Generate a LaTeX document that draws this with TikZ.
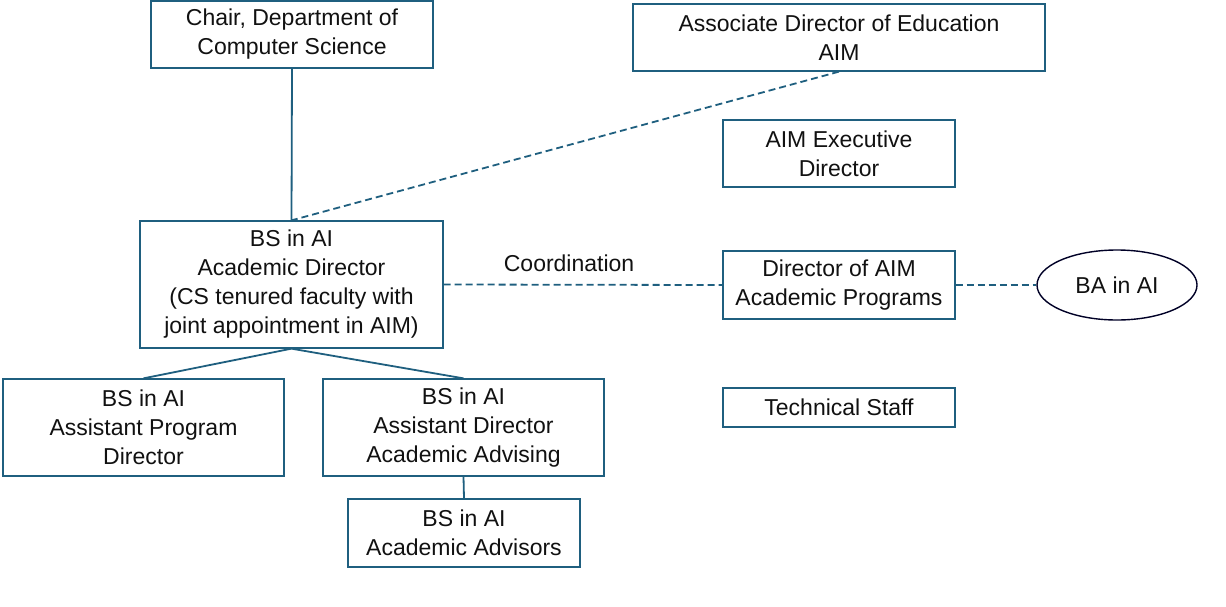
\documentclass[tikz,border=0pt]{standalone}
\usepackage{fontspec}
\setmainfont{Liberation Sans}
\usetikzlibrary{shapes.geometric}
\definecolor{lineblue}{HTML}{1F5F7F}
\definecolor{txt}{HTML}{111111}
\begin{document}
\begin{tikzpicture}[x=1pt,y=-1pt,
  lbl/.style={text=txt,font=\fontsize{23}{29}\selectfont},
  box/.style={draw=lineblue,line width=1.3pt,fill=white,inner sep=0pt,align=center,lbl},
  link/.style={draw=lineblue,line width=1.8pt},
  dlink/.style={draw=lineblue,line width=1.8pt,dash pattern=on 7pt off 4pt}]
\useasboundingbox (0,0) rectangle (1226,606);
\node[box,minimum width=282pt,minimum height=67pt] (chair) at (292,34.5) {Chair, Department of\\Computer Science};
\node[box,minimum width=412pt,minimum height=67pt] (assoc) at (839,37.5) {Associate Director of Education\\AIM};
\node[box,minimum width=232pt,minimum height=67pt] (exec) at (839,153.5) {AIM Executive\\Director};
\node[box,minimum width=303pt,minimum height=127pt] (bs) at (291.5,284.5) {BS in AI\\Academic Director\\(CS tenured faculty with\\joint appointment in AIM)};
\node[box,minimum width=232pt,minimum height=68pt] (dir) at (839,285) {Director of AIM\\Academic Programs};
\node[draw=black!85!blue,line width=1.4pt,ellipse,minimum width=160pt,minimum height=70pt,inner sep=0pt,lbl] (ba) at (1117,285) {BA in AI};
\node[box,minimum width=232pt,minimum height=39pt] (tech) at (839,407.5) {Technical Staff};
\node[box,minimum width=281pt,minimum height=97pt] (apd) at (143.5,427.5) {BS in AI\\Assistant Program\\Director};
\node[box,minimum width=281pt,minimum height=97pt] (ada) at (463.5,427.5) {BS in AI\\Assistant Director\\Academic Advising};
\node[box,minimum width=232pt,minimum height=68pt] (adv) at (464,533) {BS in AI\\Academic Advisors};
\draw[link] (chair.south) -- (bs.north);
\draw[dlink] (assoc.south) -- (bs.north);
\draw[dlink] (bs.east) -- node[pos=0.45,above=9pt,lbl]{Coordination} (dir.west);
\draw[dlink] (dir.east) -- (ba.west);
\draw[link] (bs.south) -- (apd.north);
\draw[link] (bs.south) -- (ada.north);
\draw[link] (ada.south) -- (adv.north);
\end{tikzpicture}
\end{document}
